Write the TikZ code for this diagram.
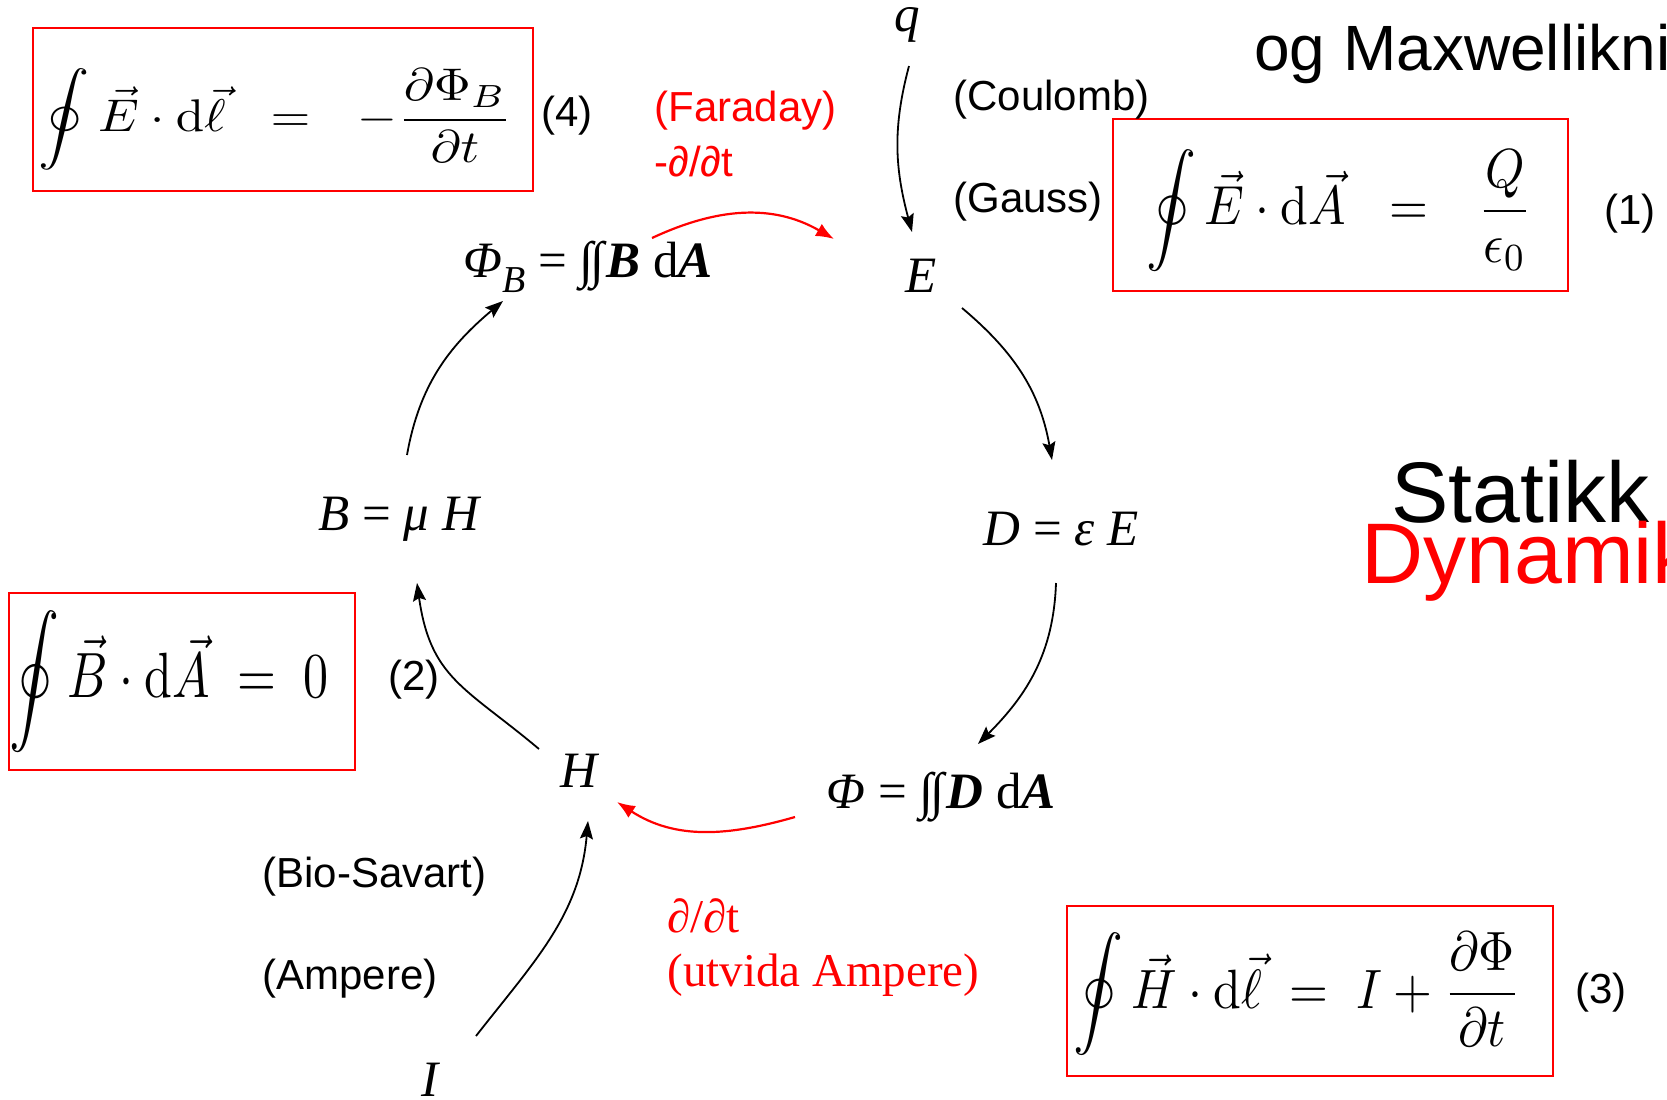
\documentclass[tikz,border=0pt]{standalone}
\usepackage{amsmath}
\usepackage[no-math]{fontspec}
\setmainfont{Liberation Sans}
\newfontfamily\tms{Liberation Serif}
\usetikzlibrary{arrows.meta, calc}
\definecolor{slidered}{HTML}{FF0000}
\newcommand{\fsz}[1]{\fontsize{#1}{#1}\selectfont}
\newcommand{\bigmath}[3]{\scalebox{#1}[#2]{$\displaystyle #3$}}
\newcommand{\dblint}{{\upshape\mdseries ∫\kern-0.06em∫\kern0.04em}}

\begin{document}
\begin{tikzpicture}[x=0.5pt, y=-0.5pt,
    lbl/.style={font=\fsz{21}, inner sep=0pt, anchor=west},
    sym/.style={font=\tms\fsz{25.5}, inner sep=0pt},
    eqbox/.style={draw=slidered, line width=1pt, inner sep=0pt},
    eqn/.style={inner sep=0pt, anchor=west},
    arr/.style={line width=0.9pt, -{Stealth[length=9pt, width=6.5pt, inset=1.5pt]}},
    rarr/.style={slidered, line width=1.1pt, -{Latex[length=9pt, width=7pt]}}]
    \useasboundingbox (0,0) rectangle (1667,1099);
    \clip (0,0) rectangle (1667,1099);
    % boxes round the four equations
    \foreach \nm/\cx/\cy/\w/\h in {boxF/283/109.5/250/81.5, boxG/1340.5/205/227.5/86,
                                   boxM/182/681.5/173/88.5, boxA/1310/991/243/85}
      \node[eqbox, minimum width=\w pt, minimum height=\h pt] (\nm) at (\cx,\cy) {};
    \node[eqn] (eqF) at ([xshift=3pt, yshift=-5pt]boxF.west)
      {\bigmath{2.56}{2.29}{\oint \vec{E}\cdot\mathrm{d}\vec{\ell}\hspace{0.6em}=\hspace{0.65em}-\frac{\partial\Phi_B}{\partial t}}};
    \node[eqn] (eqG) at ([xshift=17pt, yshift=-3pt]boxG.west)
      {\bigmath{2.5}{2.75}{\oint \vec{E}\cdot\mathrm{d}\vec{A}\hspace{0.6em}=\hspace{0.7em}\frac{Q}{\epsilon_0}}};
    \node[eqn] (eqM) at ([xshift=0.5pt]boxM.west)
      {\bigmath{2.5}{3.2}{\oint \vec{B}\cdot\mathrm{d}\vec{A}\;=\;0}};
    \node[eqn] (eqA) at ([xshift=3.5pt, yshift=-1.5pt]boxA.west)
      {\bigmath{2.5}{2.77}{\oint \vec{H}\cdot\mathrm{d}\vec{\ell}\;=\;I+\frac{\partial\Phi}{\partial t}}};
    \foreach \nm/\x/\y/\txt in {n4/567/116/(4), n1/1630/214/(1), n2/414/680/(2), n3/1601/993/(3)}
      \node[lbl, anchor=center] (\nm) at (\x,\y) {\txt};
    % quantities in the loop
    \node[sym] (q) at (907,25) {\textit{q}};
    \node[sym] (E) at (921,276) {\textit{E}};
    \node[sym] (PhiB) at (588,267) {\textit{Φ}\raisebox{-0.3em}{\fsz{19}\textit{B}} = \dblint\textbf{\textit{B}} d\textbf{\textit{A}}};
    \node[sym] (D) at (1061,529) {\textit{D} = \textit{ε E}};
    \node[sym] (B) at (400,519) {\textit{B} = \textit{μ H}};
    \node[sym] (Phi) at (941,797) {\textit{Φ} = \dblint\textbf{\textit{D}} d\textbf{\textit{A}}};
    \node[sym] (H) at (580,771) {\textit{H}};
    \node[sym] (I) at (431,1080) {\textit{I}};
    % law names
    \foreach \nm/\x/\y/\txt in {lCoul/953/100/{(Coulomb)}, lGauss/953/202/{(Gauss)},
                                lBio/262/877/{(Bio-Savart)}, lAmp/262/979/{(Ampere)}}
      \node[lbl] (\nm) at (\x,\y) {\txt};
    \node[lbl, text=slidered] (lFar) at (654,111) {(Faraday)};
    \node[lbl, text=slidered] (lFarDt) at (654,162) {-∂/∂t};
    \node[sym, anchor=west, text=slidered, font=\tms\fsz{23.5}] (lAmpDt) at (667,916) {∂/∂t};
    \node[sym, anchor=west, text=slidered, font=\tms\fsz{23.5}] (lUtv) at (667,975) {(utvida Ampere)};
    % headings, cut at the right edge
    \node[inner sep=0pt, anchor=base west, font=\fsz{32}] (title) at (1254,70) {og Maxwellikningane};
    \node[inner sep=0pt, anchor=base west, font=\fsz{43}] (stat) at (1391,522) {Statikk};
    \node[inner sep=0pt, anchor=base west, font=\fsz{43}, text=slidered] (dyn) at (1361,583) {Dynamik};
    % connectors
    \draw[arr] ($(q)+(2,41)$) to[out=-105, in=105] ($(E)+(-9,-44)$);
    \draw[arr] ($(E)+(41,32)$) to[out=-40, in=100] ($(D)+(-9,-69)$);
    \draw[arr] ($(D)+(-5,54)$) to[out=-92, in=45] ($(Phi)+(37,-53)$);
    \draw[rarr] ($(Phi)+(-146,20)$) to[out=196, in=-33] ($(H)+(37,31)$);
    \draw[arr] ($(I)+(45,-44)$) to[out=52, in=-95] ($(H)+(8,50)$);
    \draw[arr] ($(H)+(-41,-22)$) to[out=140, in=-82, looseness=1.2] ($(B)+(17,64)$);
    \draw[arr] ($(B)+(7,-64)$) to[out=80, in=-140] ($(PhiB)+(-85,34)$);
    \draw[rarr] ($(PhiB)+(64,-29)$) to[out=25, in=150] ($(E)+(-87,-37)$);
\end{tikzpicture}
\end{document}
